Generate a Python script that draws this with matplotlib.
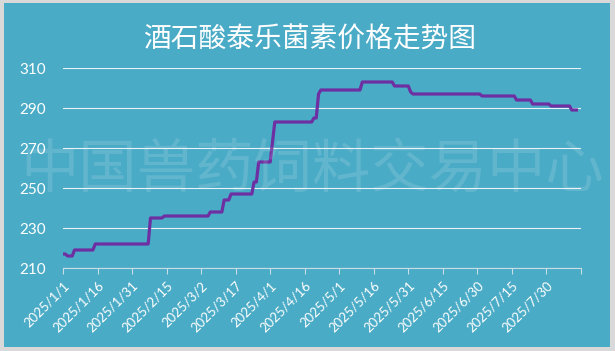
import numpy as np
import pandas as pd
import matplotlib
matplotlib.use("Agg")
from matplotlib import pyplot as plt
import matplotlib.dates as mdates
from matplotlib.patches import Rectangle

plt.rcParams['font.family'] = ['Noto Sans CJK SC', 'DejaVu Sans']

# price breakpoints (yuan/kg)
dates = ["2025-01-01", "2025-01-02", "2025-01-03", "2025-01-05", "2025-01-06", "2025-01-14",
         "2025-01-15", "2025-02-07", "2025-02-08", "2025-02-13", "2025-02-14", "2025-03-05",
         "2025-03-06", "2025-03-11", "2025-03-12", "2025-03-14", "2025-03-15", "2025-03-24",
         "2025-03-25", "2025-03-26", "2025-03-27", "2025-04-01", "2025-04-03", "2025-04-19",
         "2025-04-20", "2025-04-21", "2025-04-22", "2025-04-23", "2025-05-10", "2025-05-11",
         "2025-05-24", "2025-05-25", "2025-05-31", "2025-06-01", "2025-06-02", "2025-07-01",
         "2025-07-02", "2025-07-16", "2025-07-17", "2025-07-23", "2025-07-24", "2025-07-31",
         "2025-08-01", "2025-08-09", "2025-08-10", "2025-08-12"]
prices = [217, 217, 216, 216, 219, 219,
          222, 222, 235, 235, 236, 236,
          238, 238, 244, 244, 247, 247,
          253, 253, 263, 263, 283, 283,
          285, 285, 297, 299, 299, 303,
          303, 301, 301, 298, 297, 297,
          296, 296, 294, 294, 292, 292,
          291, 291, 289, 289]

title = "酒石酸泰乐菌素价格走势图"
watermark = "中国兽药饲料交易中心"
y_ticks = [210, 230, 250, 270, 290, 310]

bg = "#4aabc6"
W, H = 615, 351
fig = plt.figure(figsize=(W / 100, H / 100), dpi=100)
fig.patch.set_facecolor("#d9d9d9")
fig.patches.append(Rectangle((4 / W, 4 / H), 606 / W, 344 / H, transform=fig.transFigure,
                             facecolor=bg, edgecolor="none", zorder=-10))

ax = fig.add_axes([63 / W, (H - 268) / H, (581 - 63) / W, 200 / H])
ax.set_facecolor("none")

x = pd.to_datetime(dates)
ax.plot(x, prices, color="#6e2fa2", lw=2.3, solid_joinstyle="round", zorder=3)

start = pd.Timestamp("2025-01-01")
end = pd.Timestamp("2025-08-14")
ax.set_xlim(start, end)
ax.set_ylim(210, 310)

xt = pd.date_range(start, end, freq="15D")
ax.set_xticks(xt)
labels = ["%d/%d/%d" % (d.year, d.month, d.day) for d in xt]
labels[-1] = ""
ax.set_xticklabels(labels, rotation=45, ha="right", rotation_mode="anchor",
                   fontsize=9.5, color="white", family=["Lato", "DejaVu Sans"])
ax.set_yticks(y_ticks)
ax.set_yticklabels([str(v) for v in y_ticks], fontsize=11, color="white",
                   family=["Lato", "DejaVu Sans"])
ax.tick_params(axis="y", length=0, pad=12)
ax.tick_params(axis="x", length=4, width=0.8, color="#c8dde6", pad=4, direction="out")

ax.grid(axis="y", color="#e8f3f7", lw=0.8)
for s in ["top", "right", "left"]:
    ax.spines[s].set_visible(False)
ax.spines["bottom"].set_color("#c8dde6")
ax.spines["bottom"].set_linewidth(0.8)

fig.text(310 / W, 1 - 40 / H, title, ha="center", va="center", fontsize=20, color="white")
fig.text(312 / W, 1 - 170 / H, watermark, ha="center", va="center", fontsize=42,
         color="white", alpha=0.13, zorder=5)

fig.savefig("out.png", dpi=100, facecolor=fig.get_facecolor())
